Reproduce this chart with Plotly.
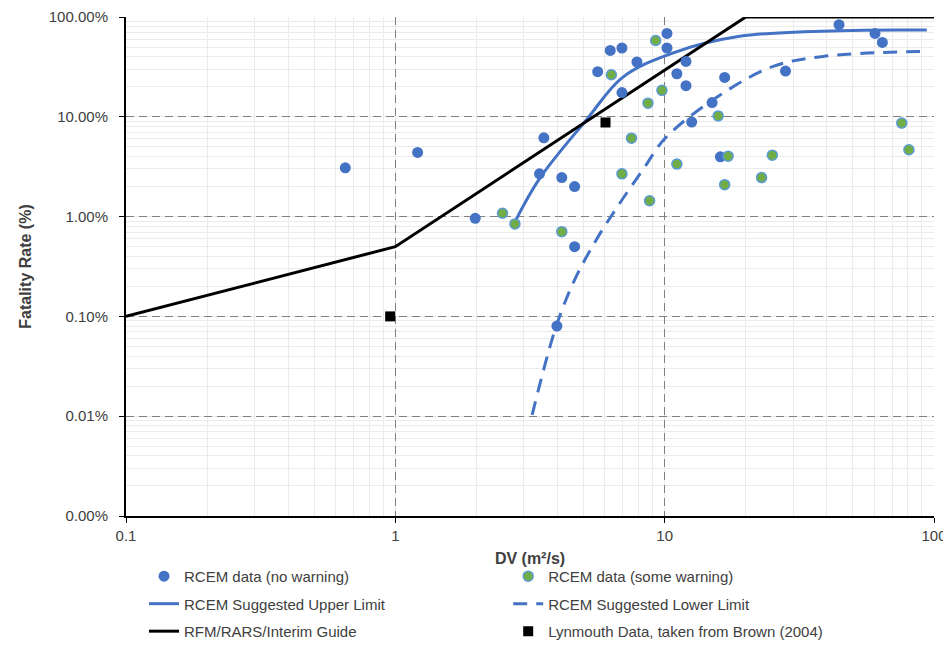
import plotly.graph_objects as go

# RCEM data (no warning)
nw_x = [0.652, 1.21, 1.98, 3.43, 3.56, 4.15, 4.63, 4.63, 3.98, 5.64, 6.28, 6.94, 6.94, 7.89,
        10.2, 10.2, 11.1, 12.0, 12.0, 12.6, 15.0, 16.1, 16.7, 28.1, 44.4, 60.4, 64.3]
nw_y = [3.08, 4.4, 0.96, 2.68, 6.15, 2.46, 2.0, 0.5, 0.08, 28.3, 46.2, 48.9, 17.5, 35.4,
        68.5, 48.9, 27.0, 35.9, 20.5, 8.85, 13.9, 3.97, 24.8, 28.7, 83.8, 68.5, 55.6]

# RCEM data (some warning)
sw_x = [2.50, 2.78, 4.15, 6.34, 6.94, 7.53, 8.67, 8.79, 9.26, 9.77, 11.1, 15.8, 16.7, 17.2,
        22.9, 25.1, 75.9, 80.7]
sw_y = [1.08, 0.845, 0.707, 26.4, 2.68, 6.11, 13.7, 1.44, 58.2, 18.4, 3.36, 10.2, 2.09, 4.03,
        2.46, 4.13, 8.65, 4.67]

# RCEM suggested upper limit
up_x = [2.77, 3.43, 5.12, 7.0, 10.7, 19.0, 44.8, 94]
up_y = [0.87, 2.4, 9.3, 25.0, 43.5, 64.0, 73.0, 74.0]

# RCEM suggested lower limit
lo_x = [3.22, 3.95, 4.63, 5.57, 6.81, 8.30, 10.1, 16.5, 25.3, 38.8, 88.7]
lo_y = [0.0103, 0.0788, 0.232, 0.584, 1.36, 2.94, 6.2, 17.3, 32.0, 40.3, 45.2]

# RFM/RARS/Interim Guide
rfm_x = [0.1, 1, 20, 100]
rfm_y = [0.1, 0.5, 100, 100]

# Lynmouth data
lyn_x = [0.957, 6.03]
lyn_y = [0.1, 8.77]

x_ticks = [0.1, 1, 10, 100]
x_labels = ["0.1", "1", "10", "100"]
y_ticks = [0.001, 0.01, 0.1, 1, 10, 100]
y_labels = ["0.00%", "0.01%", "0.10%", "1.00%", "10.00%", "100.00%"]

BLUE = "#4472C4"
GREEN = "#70AD47"
TXT = "#404040"

fig = go.Figure()
fig.add_trace(go.Scatter(x=up_x, y=up_y, mode="lines", name="RCEM Suggested Upper Limit",
                         line=dict(color=BLUE, width=3, shape="spline"),
                         legend="legend", legendrank=2, legendgroup="a2"))
fig.add_trace(go.Scatter(x=lo_x, y=lo_y, mode="lines", name="RCEM Suggested Lower Limit",
                         line=dict(color=BLUE, width=3, dash="14px,9px", shape="spline"),
                         legend="legend2", legendrank=2, legendgroup="b2"))
fig.add_trace(go.Scatter(x=rfm_x, y=rfm_y, mode="lines", name="RFM/RARS/Interim Guide",
                         line=dict(color="black", width=3),
                         legend="legend", legendrank=3, legendgroup="a3"))
fig.add_trace(go.Scatter(x=nw_x, y=nw_y, mode="markers", name="RCEM data (no warning)",
                         marker=dict(color=BLUE, size=11),
                         legend="legend", legendrank=1, legendgroup="a1"))
fig.add_trace(go.Scatter(x=sw_x, y=sw_y, mode="markers", name="RCEM data (some warning)",
                         marker=dict(color=GREEN, size=10, line=dict(color="#5B9BD5", width=1.5)),
                         legend="legend2", legendrank=1, legendgroup="b1"))
fig.add_trace(go.Scatter(x=lyn_x, y=lyn_y, mode="markers", name="Lynmouth Data, taken from Brown (2004)",
                         marker=dict(color="black", size=10, symbol="square"),
                         legend="legend2", legendrank=3, legendgroup="b3"))

leg_common = dict(orientation="v", yanchor="top", y=-0.088, xanchor="left",
                  font=dict(size=15, color=TXT), traceorder="grouped", tracegroupgap=5,
                  bgcolor="rgba(0,0,0,0)")
fig.update_layout(
    width=943, height=640,
    margin=dict(l=118, r=17, t=9, b=132, autoexpand=False),
    paper_bgcolor="white", plot_bgcolor="white",
    font=dict(family="Liberation Sans, Arial, sans-serif", size=15, color=TXT),
    legend=dict(x=0.0223, **leg_common),
    legend2=dict(x=0.473, **leg_common),
)
fig.update_xaxes(
    type="log", range=[-1, 2], tickvals=x_ticks, ticktext=x_labels, automargin=False,
    ticklabeloverflow="allow",
    showline=True, linecolor="black", linewidth=2, ticks="outside", tickcolor="black", ticklen=5,
    showgrid=True, gridcolor="#808080", griddash="8px,5px", gridwidth=1.3,
    minor=dict(showgrid=True, gridcolor="#ebebeb", griddash="solid", gridwidth=1, dtick="D1", ticks=""),
    zeroline=False, mirror=False,
    title=dict(text="<b>DV (m²/s)</b>", font=dict(size=16, color=TXT), standoff=10),
)
fig.update_yaxes(
    type="log", range=[-3, 2], tickvals=y_ticks, ticktext=y_labels, automargin=False,
    showline=True, linecolor="black", linewidth=2, ticks="outside", tickcolor="black", ticklen=5,
    ticklabelstandoff=8,
    showgrid=True, gridcolor="#808080", griddash="8px,5px", gridwidth=1.3,
    minor=dict(showgrid=True, gridcolor="#ebebeb", griddash="solid", gridwidth=1, dtick="D1", ticks=""),
    zeroline=False,
    title=dict(text="<b>Fatality Rate (%)</b>", font=dict(size=16, color=TXT), standoff=13),
)

fig.write_html("out.html")
